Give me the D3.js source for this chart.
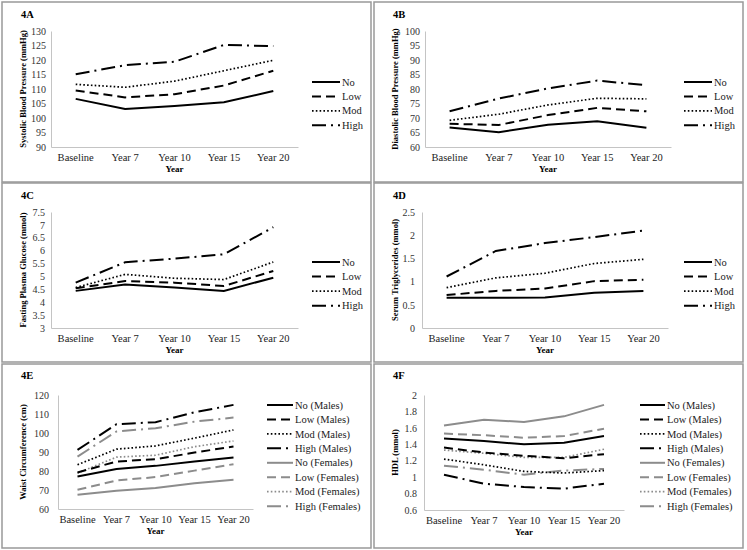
<!DOCTYPE html>
<html><head><meta charset="utf-8">
<script src="https://cdn.jsdelivr.net/npm/d3@7"></script>
<style>body{margin:0;background:#fff} svg{display:block}</style>
</head><body><svg id="c" width="747" height="550"></svg>
<script>
const categories = ["Baseline","Year 7","Year 10","Year 15","Year 20"];
const groups4 = ["No","Low","Mod","High"];
const groups8 = ["No (Males)","Low (Males)","Mod (Males)","High (Males)","No (Females)","Low (Females)","Mod (Females)","High (Females)"];

// 4A Systolic BP
const sbpNo   = [106.6,103.1,104.1,105.4,109.3];
const sbpLow  = [109.5,107.1,108.2,111.2,116.3];
const sbpMod  = [111.6,110.6,112.7,116.3,119.9];
const sbpHigh = [115.1,118.2,119.4,125.2,124.8];
const sbpTicks = [90,95,100,105,110,115,120,125,130];
// 4B Diastolic BP
const dbpNo   = [66.7,65.1,67.7,68.9,66.6];
const dbpLow  = [68.0,67.6,71.0,73.5,72.3];
const dbpMod  = [69.2,71.3,74.5,76.8,76.6];
const dbpHigh = [72.3,76.7,80.2,82.9,81.3];
const dbpTicks = [60,65,70,75,80,85,90,95,100];
// 4C Fasting plasma glucose
const fpgNo   = [4.44,4.69,4.57,4.44,4.95];
const fpgLow  = [4.54,4.82,4.76,4.63,5.21];
const fpgMod  = [4.57,5.08,4.93,4.88,5.56];
const fpgHigh = [4.76,5.55,5.69,5.86,6.91];
const fpgTicks = ["3","3.5","4","4.5","5","5.5","6","6.5","7","7.5"];
// 4D Serum triglycerides
const tgNo   = [0.65,0.65,0.66,0.76,0.80];
const tgLow  = [0.71,0.80,0.85,1.01,1.04];
const tgMod  = [0.87,1.08,1.18,1.39,1.48];
const tgHigh = [1.11,1.66,1.83,1.96,2.10];
const tgTicks = ["0","0.5","1","1.5","2","2.5"];
// 4E Waist circumference
const wcNoM   = [77.1,81.0,82.7,85.0,87.1];
const wcLowM  = [79.2,85.0,86.2,89.7,92.9];
const wcModM  = [83.3,91.5,93.2,97.3,101.6];
const wcHighM = [91.1,104.6,105.7,110.9,114.8];
const wcNoF   = [67.5,69.6,71.0,73.6,75.4];
const wcLowF  = [70.1,75.0,76.8,80.2,83.6];
const wcModF  = [78.9,87.3,88.3,92.8,95.8];
const wcHighF = [87.6,100.8,102.5,106.0,108.1];
const wcTicks = [60,70,80,90,100,110,120];
// 4F HDL
const hdlNoM   = [1.47,1.44,1.40,1.42,1.50];
const hdlLowM  = [1.36,1.30,1.26,1.23,1.28];
const hdlModM  = [1.22,1.15,1.07,1.05,1.08];
const hdlHighM = [1.03,0.92,0.88,0.86,0.92];
const hdlNoF   = [1.63,1.70,1.67,1.74,1.88];
const hdlLowF  = [1.53,1.51,1.48,1.50,1.59];
const hdlModF  = [1.33,1.29,1.24,1.24,1.34];
const hdlHighF = [1.14,1.09,1.03,1.08,1.10];
const hdlTicks = ["0.6","0.8","1","1.2","1.4","1.6","1.8","2"];

const FONT = "'Liberation Serif','Times New Roman',serif";
const dashes = [null, "9,5", "1.6,2.2", "14,5,2,5"];
const widths = [2, 2, 1.7, 2];
const BLACK = "#000", GRAY = "#8c8c8c";

const panels = [
  {tag:"4A", box:[2,2,369,180], plot:[51,298,31,147], ticks:sbpTicks, title:"Systolic Blood Pressure (mmHg)",
   series:[sbpNo,sbpLow,sbpMod,sbpHigh], names:groups4, leg:[312,82,14.4,28], pad:5, tagY:18},
  {tag:"4B", box:[374,2,369,180], plot:[425,671,31,147], ticks:dbpTicks, title:"Diastolic Blood Pressure (mmHg)",
   series:[dbpNo,dbpLow,dbpMod,dbpHigh], names:groups4, leg:[684,82,14.4,28], pad:5, tagY:18},
  {tag:"4C", box:[2,183,369,179], plot:[51,298,212,328], ticks:fpgTicks, title:"Fasting Plasma Glucose (mmol)",
   series:[fpgNo,fpgLow,fpgMod,fpgHigh], names:groups4, leg:[312,262,14.6,28], pad:6, tagY:199},
  {tag:"4D", box:[374,183,369,179], plot:[422,668,212,328], ticks:tgTicks, title:"Serum Triglycerides (mmol)",
   series:[tgNo,tgLow,tgMod,tgHigh], names:groups4, leg:[684,262,14.6,28], pad:7, tagY:199},
  {tag:"4E", box:[2,364,369,184], plot:[58,253,395,509], ticks:wcTicks, title:"Waist Circumference (cm)",
   series:[wcNoM,wcLowM,wcModM,wcHighM,wcNoF,wcLowF,wcModF,wcHighF], names:groups8, leg:[267,405,14.45,26], pad:9, tagY:379},
  {tag:"4F", box:[374,364,369,184], plot:[424,624,395,510], ticks:hdlTicks, title:"HDL (mmol)",
   series:[hdlNoM,hdlLowM,hdlModM,hdlHighM,hdlNoF,hdlLowF,hdlModF,hdlHighF], names:groups8, leg:[640,405,14.45,25], pad:7, tagY:379}
];

const svg = d3.select("#c");

panels.forEach(p => {
  const [bx,by,bw,bh] = p.box;
  const [x0,x1,y0,y1] = p.plot;
  svg.append("rect").attr("x",bx).attr("y",by).attr("width",bw).attr("height",bh)
    .attr("fill","#fff").attr("stroke","#999").attr("stroke-width",1.5);

  svg.append("text").attr("x",bx+19).attr("y",p.tagY).text(p.tag)
    .attr("font-family",FONT).attr("font-weight","bold").attr("font-size","10.5px").attr("fill","#000");

  const tickNums = p.ticks.map(Number);
  const x = d3.scaleBand().domain(categories).range([x0,x1]);
  const y = d3.scaleLinear().domain([d3.min(tickNums), d3.max(tickNums)]).range([y1,y0]);

  const ya = svg.append("g").attr("transform",`translate(${x0},0)`)
    .call(d3.axisLeft(y).tickValues(tickNums).tickSize(0).tickSizeOuter(0).tickPadding(p.pad)
      .tickFormat((d,i)=>String(p.ticks[i])));
  ya.select(".domain").attr("stroke","#c4c4c4").attr("stroke-width",1);
  ya.selectAll("text").attr("font-family",FONT).attr("font-size","10px").attr("fill","#333");

  const xa = svg.append("g").attr("transform",`translate(0,${y1})`)
    .call(d3.axisBottom(x).tickSize(0).tickSizeOuter(0).tickPadding(6.5));
  xa.select(".domain").attr("stroke","#c4c4c4").attr("stroke-width",1);
  xa.selectAll("text").attr("font-family",FONT).attr("font-size","10.5px").attr("fill","#222");

  svg.append("text").attr("x",(x0+x1)/2).attr("y",y1+25).attr("text-anchor","middle").text("Year")
    .attr("font-family",FONT).attr("font-weight","bold").attr("font-size","9px").attr("fill","#000");

  svg.append("text").attr("transform",`translate(${bx+21},${(y0+y1)/2}) rotate(-90)`)
    .attr("text-anchor","middle").attr("dominant-baseline","central").text(p.title)
    .attr("font-family",FONT).attr("font-weight","bold").attr("font-size","8.5px").attr("fill","#000");

  const line = d3.line().x((d,i)=>x(categories[i])+x.bandwidth()/2).y(d=>y(d));
  const order = p.series.map((s,i)=>i).sort((a,b)=>(b>=4)-(a>=4));
  order.forEach(i => {
    const s = p.series[i];
    svg.append("path").datum(s).attr("d",line).attr("fill","none")
      .attr("stroke", i>=4 ? GRAY : BLACK).attr("stroke-width",widths[i%4])
      .attr("stroke-dasharray", dashes[i%4]);
  });

  const [lx,ly,step,len] = p.leg;
  p.names.forEach((n,i) => {
    const yy = ly + i*step;
    svg.append("line").attr("x1",lx).attr("x2",lx+len).attr("y1",yy).attr("y2",yy)
      .attr("stroke", i>=4 ? GRAY : BLACK).attr("stroke-width",widths[i%4])
      .attr("stroke-dasharray", dashes[i%4]);
    svg.append("text").attr("x",lx+len+2).attr("y",yy).attr("dy","0.35em").text(n)
      .attr("font-family",FONT).attr("font-size","10.5px").attr("fill","#222");
  });
});
</script></body></html>
